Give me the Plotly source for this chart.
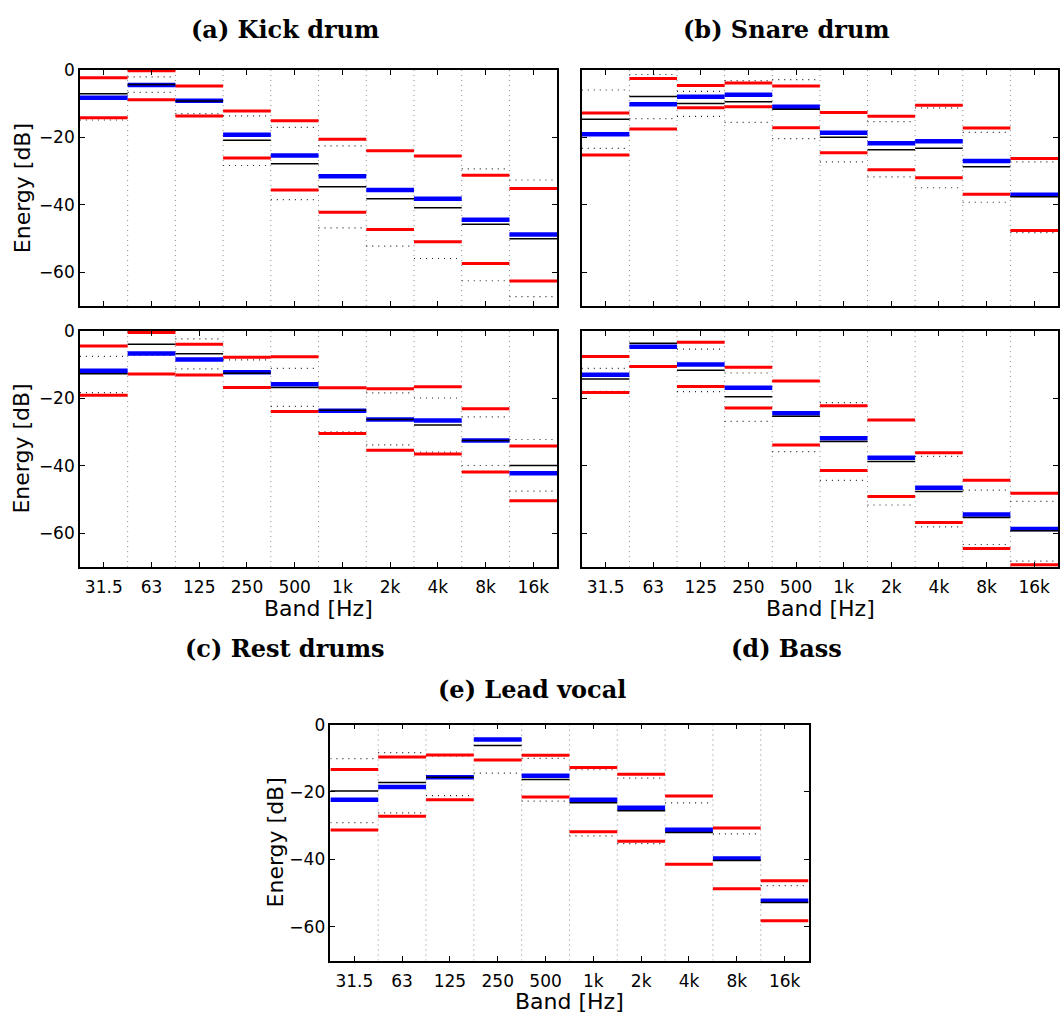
import plotly.graph_objects as go

bands = ["31.5", "63", "125", "250", "500", "1k", "2k", "4k", "8k", "16k"]
y_ticks = [0, -20, -40, -60]

# (a) Kick drum
kick_mean = [-8.2, -4.4, -9.1, -19.2, -25.3, -31.5, -35.6, -38.2, -44.4, -48.8]
kick_median = [-7.0, -4.3, -9.2, -20.8, -27.8, -34.6, -38.2, -40.8, -45.7, -50.0]
kick_red_hi = [-2.3, -0.2, -4.7, -12.1, -15.0, -20.5, -23.9, -25.5, -31.2, -35.1]
kick_red_lo = [-14.1, -8.8, -13.6, -26.1, -35.6, -42.2, -47.3, -50.9, -57.4, -62.6]
kick_dot_hi = [0.5, -2.0, -4.7, -13.6, -17.0, -22.5, -23.9, -25.5, -29.3, -32.6]
kick_dot_lo = [-14.8, -6.6, -12.9, -28.3, -38.4, -46.8, -52.2, -55.9, -62.5, -67.2]

# (b) Snare drum
snare_mean = [-19.0, -10.1, -7.9, -7.3, -10.9, -18.6, -21.7, -21.1, -27.0, -37.0]
snare_median = [-14.6, -7.8, -9.9, -9.4, -11.6, -19.9, -23.6, -23.2, -28.7, -37.6]
snare_red_hi = [-12.7, -2.5, -4.6, -3.8, -4.7, -12.6, -13.7, -10.4, -17.2, -26.2]
snare_red_lo = [-25.2, -17.5, -11.2, -10.9, -17.1, -24.5, -29.6, -31.9, -36.8, -47.6]
snare_dot_hi = [-5.9, -1.3, -6.3, -3.1, -2.8, -12.6, -15.3, -11.2, -18.5, -27.2]
snare_dot_lo = [-23.2, -14.4, -13.7, -15.5, -20.3, -27.2, -31.7, -34.9, -39.2, -48.2]

# (c) Rest drums
rest_mean = [-11.8, -6.7, -8.5, -12.3, -15.8, -23.7, -26.3, -26.6, -32.5, -42.2]
rest_median = [-12.7, -4.0, -6.8, -12.6, -16.8, -23.5, -26.3, -27.9, -32.5, -39.9]
rest_red_hi = [-4.5, -0.5, -4.0, -7.8, -7.7, -16.9, -17.2, -16.6, -23.1, -34.1]
rest_red_lo = [-19.1, -12.8, -13.1, -16.8, -23.9, -30.4, -35.4, -36.5, -41.8, -50.3]
rest_dot_hi = [-7.6, -0.5, -2.4, -8.6, -11.1, -16.9, -18.4, -19.9, -25.5, -32.2]
rest_dot_lo = [-18.3, -7.3, -11.3, -16.8, -22.4, -29.9, -33.8, -35.9, -39.9, -47.5]

# (d) Bass
bass_mean = [-13.0, -4.7, -10.0, -16.9, -24.4, -31.8, -37.6, -46.5, -54.4, -58.7]
bass_median = [-14.3, -3.7, -11.7, -19.5, -25.3, -32.8, -38.7, -47.6, -55.3, -59.2]
bass_red_hi = [-7.6, 1.0, -3.4, -10.8, -14.9, -22.2, -26.4, -36.1, -44.3, -48.1]
bass_red_lo = [-18.3, -10.6, -16.5, -22.9, -33.8, -41.4, -49.1, -56.8, -64.5, -69.3]
bass_dot_hi = [-11.1, 0.5, -5.4, -12.5, -14.9, -21.3, -26.4, -37.2, -47.2, -50.5]
bass_dot_lo = [-17.9, -10.6, -18.0, -26.8, -35.8, -44.3, -51.6, -58.1, -63.3, -68.2]

# (e) Lead vocal
vocal_mean = [-22.3, -18.5, -15.6, -4.4, -15.2, -22.3, -24.7, -31.2, -39.7, -52.3]
vocal_median = [-19.7, -17.2, -15.6, -6.2, -16.3, -23.2, -25.6, -32.0, -40.3, -52.8]
vocal_red_hi = [-13.3, -9.6, -9.0, 1.0, -9.1, -12.7, -14.7, -21.2, -30.7, -46.3]
vocal_red_lo = [-31.3, -27.2, -22.3, -10.5, -21.5, -31.8, -34.6, -41.4, -48.7, -58.2]
vocal_dot_hi = [-10.1, -8.3, -9.3, 0.5, -10.0, -13.4, -15.9, -23.2, -32.4, -47.8]
vocal_dot_lo = [-29.1, -26.2, -21.1, -14.4, -22.7, -33.0, -35.3, -41.4, -48.7, -58.2]

titles = ["(a) Kick drum", "(b) Snare drum", "(c) Rest drums", "(d) Bass", "(e) Lead vocal"]
panels = [
    (kick_mean, kick_median, kick_red_hi, kick_red_lo, kick_dot_hi, kick_dot_lo),
    (snare_mean, snare_median, snare_red_hi, snare_red_lo, snare_dot_hi, snare_dot_lo),
    (rest_mean, rest_median, rest_red_hi, rest_red_lo, rest_dot_hi, rest_dot_lo),
    (bass_mean, bass_median, bass_red_hi, bass_red_lo, bass_dot_hi, bass_dot_lo),
    (vocal_mean, vocal_median, vocal_red_hi, vocal_red_lo, vocal_dot_hi, vocal_dot_lo),
]

W, H = 1060, 1014


def px_x(x):
    return x / W


def px_y(y):
    return 1 - y / H


# panel pixel boxes: left, right, top, bottom
boxes = [
    (80, 557.7, 60.7, 299),
    (582.3, 1059, 60.7, 299),
    (80, 557.7, 324, 562.7),
    (582.3, 1059, 324, 562.7),
    (330.7, 809.3, 721.7, 960),
]
show_xlab = [False, False, True, True, True]
show_ylab = [True, False, True, False, True]


def segs(vals):
    xs, ys = [], []
    for i, v in enumerate(vals):
        c = i + 1
        xs += [c - 0.5, c + 0.5, None]
        ys += [v, v, None]
    return xs, ys


fig = go.Figure()
shapes = []
tickfont = dict(family="DejaVu Sans", size=17, color="black")

for p, (data, box) in enumerate(zip(panels, boxes)):
    mean, median, rhi, rlo, dhi, dlo = data
    sfx = "" if p == 0 else str(p + 1)
    xa, ya = "x" + sfx, "y" + sfx
    styles = [
        (dhi, dict(color="#222", width=1.2, dash="1px,5px")),
        (dlo, dict(color="#222", width=1.2, dash="1px,5px")),
        (rhi, dict(color="#ff0000", width=3)),
        (rlo, dict(color="#ff0000", width=3)),
        (mean, dict(color="#0000ff", width=4.5)),
        (median, dict(color="black", width=1.5)),
    ]
    for vals, line in styles:
        xs, ys = segs(vals)
        fig.add_trace(go.Scatter(x=xs, y=ys, mode="lines", line=line,
                                 xaxis=xa, yaxis=ya, showlegend=False,
                                 hoverinfo="skip"))
    for k in range(1, len(bands)):
        shapes.append(dict(type="line", xref=xa, yref=ya, x0=k + 0.5, x1=k + 0.5,
                           y0=-70, y1=0, layer="below",
                           line=dict(color="#888", width=1, dash="1px,4px")))
    l, r, t, b = box
    fig.layout["xaxis" + sfx] = dict(
        domain=[px_x(l), px_x(r)], anchor=ya, range=[0.5, 10.5],
        tickmode="array", tickvals=list(range(1, len(bands) + 1)), ticktext=bands,
        ticks="inside", ticklen=5, tickwidth=1, tickcolor="black",
        mirror="ticks", showline=True, linecolor="black", linewidth=1.5,
        showgrid=False, zeroline=False, showticklabels=show_xlab[p],
        tickfont=tickfont, ticklabelstandoff=4)
    fig.layout["yaxis" + sfx] = dict(
        domain=[px_y(b), px_y(t)], anchor=xa, range=[-70, 0],
        tickmode="array", tickvals=y_ticks,
        ticks="inside", ticklen=5, tickwidth=1, tickcolor="black",
        mirror="ticks", showline=True, linecolor="black", linewidth=1.5,
        showgrid=False, zeroline=False, showticklabels=show_ylab[p],
        tickfont=tickfont)

ann = []
title_pos = [(285, 20), (787, 20), (285, 645), (787, 645), (533, 686)]
for txt, (x, y) in zip(titles, title_pos):
    ann.append(dict(text="<b>" + txt + "</b>", x=px_x(x), y=px_y(y), xref="paper", yref="paper",
                    showarrow=False, xanchor="center", yanchor="middle",
                    font=dict(family="DejaVu Serif", size=24, color="black")))
labfont = dict(family="DejaVu Sans", size=22, color="black")
for x, y in [(22, 180), (22, 443), (276, 841)]:
    ann.append(dict(text="Energy [dB]", x=px_x(x), y=px_y(y), xref="paper", yref="paper",
                    showarrow=False, textangle=-90, xanchor="center", yanchor="middle",
                    font=labfont))
for x, y in [(319, 604), (821, 604), (570, 1001)]:
    ann.append(dict(text="Band [Hz]", x=px_x(x), y=px_y(y), xref="paper", yref="paper",
                    showarrow=False, xanchor="center", yanchor="middle", font=labfont))

fig.update_layout(width=W, height=H, margin=dict(l=0, r=0, t=0, b=0),
                  paper_bgcolor="white", plot_bgcolor="white",
                  shapes=shapes, annotations=ann, showlegend=False)

fig.write_html("out.html", config={"displayModeBar": False},
               post_script="document.body.style.margin='0';document.body.style.overflow='hidden';")
